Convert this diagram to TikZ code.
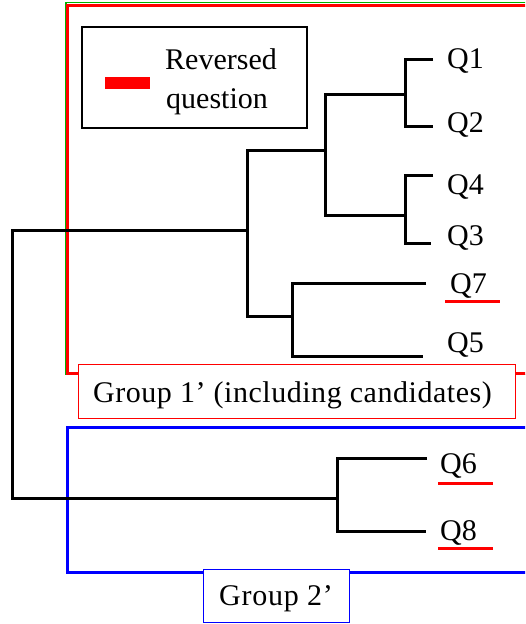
\documentclass[tikz,border=0pt]{standalone}
\usepackage{fontspec}
\setmainfont{Liberation Serif}
\begin{document}
\begin{tikzpicture}[x=1pt,y=-1pt,
  tree/.style={line width=3pt},
  leaf/.style={anchor=base west, inner sep=0pt, font=\fontsize{30}{36}\selectfont},
  txt/.style={inner sep=0pt, font=\fontsize{30}{36}\selectfont},
  revline/.style={red, line width=3pt},
  grouplab/.style={fill=white, line width=1pt, inner sep=0pt, font=\fontsize{30}{36}\selectfont}]
\useasboundingbox (0,0) rectangle (525,624);
\clip (0,0) rectangle (525,624);
% group frames
\draw[green!70!black, line width=1.2pt] (66,2.5) rectangle (545,374.5);
\draw[red, line width=3pt] (67,5) rectangle (545,373);
\draw[blue, line width=3pt] (67,427) rectangle (545,572);
% legend
\draw[line width=2.5pt] (82,27) rectangle (307,128);
\fill[red] (105,77) rectangle (150,89);
\node[txt, anchor=base west] (rev1) at (165,69) {Reversed};
\node[txt, anchor=base west] (rev2) at (166,108) {question};
% leaf labels
\node[leaf] (q1) at (447,68) {Q1};
\node[leaf] (q2) at (447,132) {Q2};
\node[leaf] (q4) at (447,194) {Q4};
\node[leaf] (q3) at (447,245) {Q3};
\node[leaf] (q7) at (450,293) {Q7};
\node[leaf] (q5) at (447,352) {Q5};
\node[leaf] (q6) at (440,473) {Q6};
\node[leaf] (q8) at (440,540) {Q8};
% reversed underlines
\draw[revline] (445,301) -- (500,301);
\draw[revline] (438,483) -- (493,483);
\draw[revline] (438,548) -- (493,548);
% tree coordinates
\coordinate (l1) at (433,59);
\coordinate (l2) at (433,126);
\coordinate (l4) at (433,175);
\coordinate (l3) at (431,243);
\coordinate (l7) at (426,283);
\coordinate (l5) at (423,356);
\coordinate (l6) at (427,458);
\coordinate (l8) at (426,531);
\coordinate (j12) at (405,94);
\coordinate (j43) at (405,215);
\coordinate (jB) at (325,150);
\coordinate (j75) at (292,316);
\coordinate (jC) at (247,230);
\coordinate (jR) at (12,364);
\coordinate (j68) at (337,498);
% tree
\draw[tree] (l1) -| (j12) |- (l2);
\draw[tree] (l4) -| (j43) |- (l3);
\draw[tree] (j12) -| (jB) |- (j43);
\draw[tree] (l7) -| (j75) |- (l5);
\draw[tree] (jB) -| (jC) |- (j75);
\draw[tree] (jC) -| (jR) |- (j68);
\draw[tree] (l6) -| (j68) |- (l8);
% group labels
\node[grouplab, draw=red, minimum width=437pt, minimum height=54pt] (g1) at (296.5,391) {};
\node[txt, anchor=base west] (g1t) at (93,402) {\addfontfeature{LetterSpace=1.8}Group 1’ (including candidates)};
\node[grouplab, draw=blue, minimum width=146pt, minimum height=53pt] (g2) at (276,595.5) {};
\node[txt, anchor=base] (g2t) at (276,605) {\addfontfeature{LetterSpace=2.5}Group 2’};
\end{tikzpicture}
\end{document}
